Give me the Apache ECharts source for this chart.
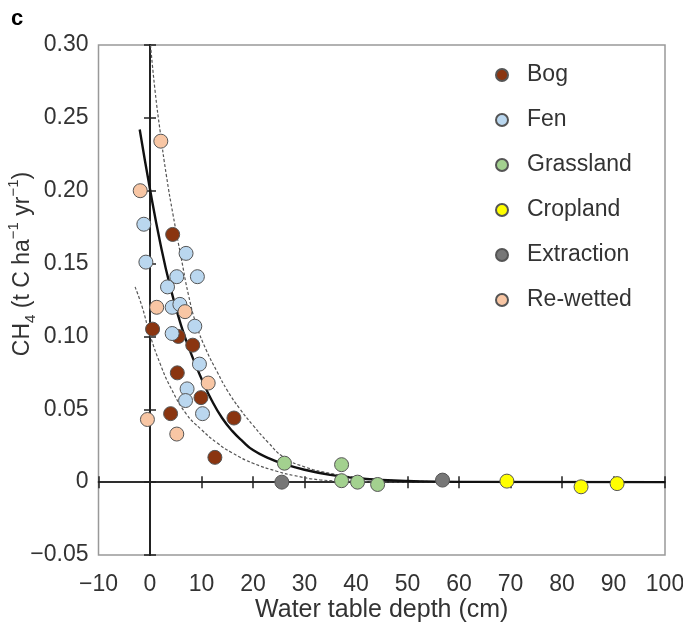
<!DOCTYPE html>
<html>
<head>
<meta charset="utf-8">
<script src="https://cdn.jsdelivr.net/npm/echarts@6/dist/echarts.min.js"></script>
<style>
  html, body { margin: 0; padding: 0; background: #fff; }
  #chart { width: 683px; height: 627px; }
</style>
</head>
<body>
<div id="chart"></div>
<script>
// points: [water table depth (cm), CH4 (t C / ha / yr)]
const bog = [[4.4, 0.170], [0.5, 0.105], [5.5, 0.100], [8.3, 0.094], [5.3, 0.075],
  [9.9, 0.058], [16.3, 0.044], [4.0, 0.047], [12.6, 0.017]]
const fen = [[-1.2, 0.177], [7.0, 0.157], [-0.8, 0.151], [5.2, 0.141], [9.2, 0.141],
  [3.4, 0.134], [4.3, 0.120], [5.8, 0.122], [8.7, 0.107], [4.3, 0.102],
  [9.6, 0.081], [7.2, 0.064], [6.9, 0.056], [10.2, 0.047]]
const grassland = [[26.1, 0.013], [37.2, 0.012], [37.2, 0.001], [40.3, 0.000], [44.2, -0.0016]]
const cropland = [[69.3, 0.0007], [83.7, -0.0032], [90.7, -0.001]]
const extraction = [[25.6, 0.000], [56.8, 0.0014]]
const rewetted = [[2.1, 0.234], [-1.9, 0.200], [1.3, 0.120], [6.8, 0.117], [11.3, 0.068],
  [-0.5, 0.043], [5.2, 0.033]]

// fitted curve and its bounds
const fitLine = [[-2, 0.242], [0, 0.201], [2, 0.164], [4, 0.133], [6, 0.108], [8, 0.088],
  [10, 0.071], [12, 0.056], [14, 0.044], [16, 0.035], [18, 0.028], [20, 0.022],
  [23, 0.0165], [26, 0.0125], [30, 0.0085], [35, 0.005], [40, 0.0028], [45, 0.0015],
  [50, 0.0008], [60, 0.0002], [100, 0]]
const upperBound = [[0.1, 0.300], [1, 0.268], [2, 0.240], [3.2, 0.210], [4.5, 0.183],
  [6, 0.155], [7.5, 0.128], [9, 0.108], [11, 0.090], [13, 0.076], [15, 0.063],
  [17.5, 0.050], [20, 0.039], [23, 0.027], [26, 0.017], [30, 0.0105], [35, 0.006],
  [40, 0.0032], [45, 0.0016], [50, 0.0008], [60, 0.0002], [100, 0]]
const lowerBound = [[-2.9, 0.134], [-1.5, 0.120], [0, 0.101], [2, 0.081], [4, 0.065],
  [7, 0.047], [10, 0.036], [13, 0.027], [16, 0.020], [20, 0.013], [24.6, 0.0075],
  [28, 0.0045], [33, 0.0016], [40, 0.0004], [50, 0.0001], [100, 0]]

const groups = [
  { name: 'Bog', data: bog, color: '#8a3510' },
  { name: 'Fen', data: fen, color: '#bad7ef' },
  { name: 'Grassland', data: grassland, color: '#a3d18f' },
  { name: 'Cropland', data: cropland, color: '#ffff00' },
  { name: 'Extraction', data: extraction, color: '#777777' },
  { name: 'Re-wetted', data: rewetted, color: '#f8c6a4' }
]

const font = 'Liberation Sans, Arial, Helvetica, sans-serif'
const minus = v => (v < 0 ? '\u2212' : '')

const yFmt = v => Math.abs(v) < 1e-9 ? '0' : minus(v) + Math.abs(v).toFixed(2)
const xFmt = v => minus(v) + Math.abs(Math.round(v))

// zero lines through the plot with ticks crossing them
const zeroX = (pos) => ({
  type: 'value', min: -10, max: 100, interval: 10, position: pos,
  axisLine: { show: true, onZero: true, onZeroAxisIndex: 0, lineStyle: { color: '#222', width: 1.5 } },
  axisTick: { show: true, length: 6, lineStyle: { color: '#222', width: 1.5 } },
  axisLabel: { show: false }, splitLine: { show: false }
})
const zeroY = (pos) => ({
  type: 'value', min: -0.05, max: 0.3, interval: 0.05, position: pos,
  axisLine: { show: true, onZero: true, onZeroAxisIndex: 0, lineStyle: { color: '#222', width: 2 } },
  axisTick: { show: true, length: 6, lineStyle: { color: '#222', width: 1.5 } },
  axisLabel: { show: false }, splitLine: { show: false }
})

const curve = (data, solid) => ({
  type: 'line', data: data, showSymbol: false, smooth: 0.5,
  silent: true, z: 1,
  lineStyle: solid ? { color: '#111', width: 2.4 } : { color: '#555', width: 1.2, type: [3, 2] }
})

const chart = echarts.init(document.getElementById('chart'))
chart.setOption({
  animation: false,
  textStyle: { fontFamily: font },
  title: { text: 'c', left: 6, top: 3, textStyle: { fontSize: 22, fontWeight: 'bold', color: '#000', fontFamily: font } },
  grid: {
    left: 98.5, right: 18, top: 45, bottom: 72, outerBoundsMode: 'none',
    show: true, borderColor: '#999', borderWidth: 1.5
  },
  legend: {
    orient: 'vertical', left: 490, top: 58, itemGap: 21, itemWidth: 12, itemHeight: 12,
    icon: 'circle',
    textStyle: { fontSize: 23, color: '#333', lineHeight: 24, padding: [0, 0, 0, 14] },
    data: groups.map(g => g.name)
  },
  xAxis: [
    {
      type: 'value', min: -10, max: 100, interval: 10, position: 'bottom',
      axisLine: { show: false }, axisTick: { show: false }, splitLine: { show: false },
      axisLabel: { fontSize: 23, color: '#333', margin: 18, formatter: xFmt },
      name: 'Water table depth (cm)', nameLocation: 'middle', nameGap: 43, nameMoveOverlap: false,
      nameTextStyle: { fontSize: 25, color: '#333' }
    },
    zeroX('bottom'),
    zeroX('top')
  ],
  yAxis: [
    {
      type: 'value', min: -0.05, max: 0.3, interval: 0.05, position: 'left',
      axisLine: { show: false }, axisTick: { show: false }, splitLine: { show: false },
      axisLabel: { fontSize: 23, color: '#333', margin: 10, formatter: yFmt },
      name: '{n|CH}{sub|4}{n| (t C ha}{sup|\u22121}{n| yr}{sup|\u22121}{n|)}',
      nameLocation: 'middle', nameGap: 60, nameRotate: 90, nameMoveOverlap: false,
      nameTextStyle: {
        padding: [0, 0, 0, 72],
        rich: {
          n: { fontSize: 23, color: '#333', fontFamily: font, lineHeight: 28 },
          sub: { fontSize: 15, color: '#333', fontFamily: font, verticalAlign: 'bottom', lineHeight: 24 },
          sup: { fontSize: 15, color: '#333', fontFamily: font, verticalAlign: 'top', lineHeight: 32 }
        }
      }
    },
    zeroY('left'),
    zeroY('right')
  ],
  series: [
    curve(lowerBound, false),
    curve(upperBound, false),
    curve(fitLine, true)
  ].concat(groups.map(g => ({
    name: g.name, type: 'scatter', data: g.data, symbolSize: 14, z: 3,
    itemStyle: { color: g.color, borderColor: '#555', borderWidth: 1, opacity: 1 }
  })))
})
</script>
</body>
</html>
